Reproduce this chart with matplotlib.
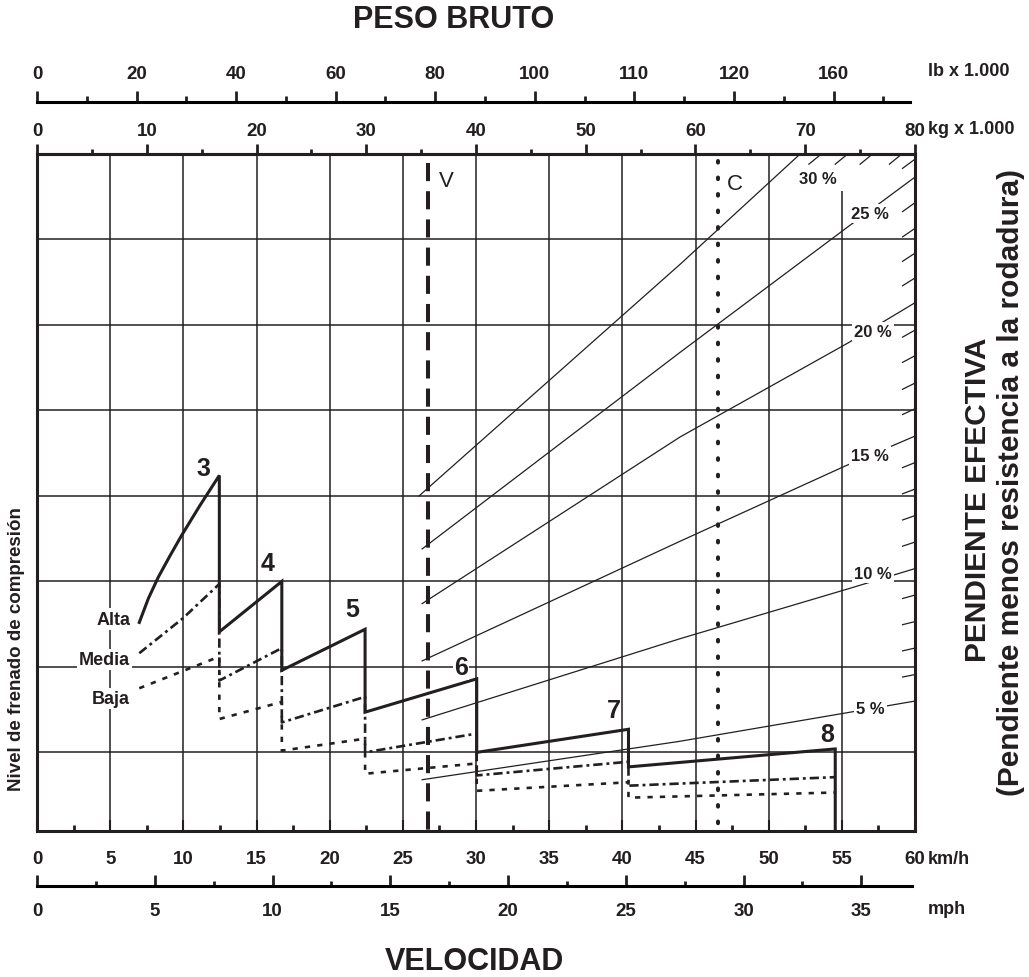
import numpy as np
import matplotlib.pyplot as plt
from matplotlib import font_manager

# ---- datos: velocidad en km/h, nivel en divisiones de cuadricula
alta_kmh = [6.99, 7.61, 8.29, 9.09, 9.89, 11.14, 12.46, 12.46, 16.73, 16.73, 22.42,
            22.42, 30.05, 30.05, 40.42, 40.42, 54.55, 54.55]
alta_nivel = [2.52, 2.80, 3.05, 3.30, 3.54, 3.89, 4.24, 2.41, 3.00, 1.96, 2.44,
              1.47, 1.86, 1.00, 1.27, 0.83, 1.04, 0.08]

media_kmh = [6.99, 9.98, 12.46, 12.46, 16.73, 16.73, 22.42, 22.42, 30.05, 30.05,
             40.42, 40.42, 54.55]
media_nivel = [2.16, 2.57, 2.97, 1.84, 2.22, 1.35, 1.65, 1.00, 1.22, 0.73,
               0.89, 0.61, 0.71]

baja_kmh = [6.99, 12.46, 12.46, 16.73, 16.73, 22.42, 22.42, 30.05, 30.05, 40.42,
            40.42, 54.55]
baja_nivel = [1.75, 2.12, 1.39, 1.59, 1.02, 1.16, 0.75, 0.87, 0.55, 0.65,
              0.47, 0.53]

niveles = ['Alta', 'Media', 'Baja']
nivel_etiqueta_kmh = [6.36, 6.36, 6.36]
nivel_etiqueta_y = [2.56, 2.09, 1.63]

marchas = ['3', '4', '5', '6', '7', '8']
marcha_kmh = [11.37, 15.74, 21.51, 28.98, 39.39, 53.98]
marcha_nivel = [4.33, 3.22, 2.68, 2.00, 1.49, 1.22]

pendientes = ['30 %', '25 %', '20 %', '15 %', '10 %', '5 %']
pend_kmh = [[26.11, 43.95, 52.15],
            [26.32, 43.95, 55.43, 60.0],
            [26.32, 43.95, 55.43, 60.0],
            [26.32, 43.95, 55.23, 60.0],
            [26.32, 43.95, 55.57, 60.0],
            [26.32, 43.95, 55.57, 60.0]]
pend_nivel = [[4.00, 6.71, 8.00],
              [3.38, 5.68, 7.15, 7.73],
              [2.74, 4.69, 5.79, 6.26],
              [2.07, 3.47, 4.35, 4.70],
              [1.38, 2.33, 2.92, 3.15],
              [0.68, 1.13, 1.47, 1.60]]
pend_etiqueta_kmh = [53.38, 56.94, 57.14, 56.94, 57.14, 56.94]
pend_etiqueta_nivel = [7.71, 7.30, 5.92, 4.47, 3.09, 1.51]

# marcas de 1 % en el borde derecho (nivel) y en el borde superior (km/h)
marcas_derecha = [1.91, 2.22, 2.53, 2.84, 3.46, 3.77, 4.08, 4.39, 5.02, 5.32,
                  5.64, 5.94, 6.55, 6.84, 7.13, 7.43, 7.94]
marcas_arriba = [53.6, 55.4, 57.1, 59.1]

v_kmh = 26.70
c_kmh = 46.57

lb_valores = [0, 20, 40, 60, 80, 100, 120, 140, 160]
lb_etiquetas = ['0', '20', '40', '60', '80', '100', '110', '120', '160']
lb_menores = [10, 30, 50, 70, 90, 110, 130, 150, 170]
kg_valores = list(range(0, 81, 10))
kmh_valores = list(range(0, 61, 5))
mph_valores = list(range(0, 36, 5))
mph_menores = [2.5, 7.5, 12.5, 17.5, 22.5, 27.5, 32.5]

W, H = 1029, 978
KG_POR_LB = 0.45359237
KMH_POR_MPH = 1.609344

instaladas = {f.name for f in font_manager.fontManager.ttflist}
ESTRECHA = 'Liberation Sans Narrow' if 'Liberation Sans Narrow' in instaladas else 'Liberation Sans'
plt.rcParams['font.family'] = ['Liberation Sans', 'DejaVu Sans']

NEGRO = '#231f20'
LW_BORDE = 2.2


def kmh_a_kg(v):
    return np.asarray(v) * 80.0 / 60.0


def kg_a_kmh(v):
    return np.asarray(v) * 60.0 / 80.0


def fig_text(fig, px, py, s, **kw):
    return fig.text(px / W, 1 - py / H, s, **kw)


def negrita(labels):
    for t in labels:
        t.set_fontweight('bold')
        t.set_family(ESTRECHA)


fig = plt.figure(figsize=(W / 100, H / 100), dpi=100)
x0, x1 = 37, 915
ax = fig.add_axes([x0 / W, 1 - 832 / H, (x1 - x0) / W, (832 - 155) / H])
ax.set_xlim(0, 60)
ax.set_ylim(0.08, 8)

# cuadricula
tops = [7.57 if v == 55 else 8 for v in kmh_valores[1:-1]]
ax.vlines(kmh_valores[1:-1], 0.08, tops, color=NEGRO, lw=1.1, zorder=1)
ax.hlines(range(1, 8), 0, 60, color=NEGRO, lw=1.1, zorder=1)

# lineas de pendiente
for xs, ys in zip(pend_kmh, pend_nivel):
    ax.plot(xs, ys, color=NEGRO, lw=0.9, zorder=2)

# inclinacion de las marcas: la del ultimo tramo de cada linea
fin_nivel = [ys[-1] for ys in pend_nivel[1:]][::-1]
fin_pend = [(ys[-1] - ys[-2]) / (xs[-1] - xs[-2])
            for xs, ys in zip(pend_kmh[1:], pend_nivel[1:])][::-1]
L = 0.85
for y in marcas_derecha:
    s = np.interp(y, fin_nivel, fin_pend)
    ax.plot([60 - L, 60], [y - s * L, y], color=NEGRO, lw=0.9, zorder=2)
for x in marcas_arriba:
    ax.plot([x - L, x], [8 - 0.14 * L, 8], color=NEGRO, lw=0.9, zorder=2)

for txt, x, y in zip(pendientes, pend_etiqueta_kmh, pend_etiqueta_nivel):
    ax.text(x, y, txt, ha='center', va='center', fontsize=12, fontweight='bold',
            family=ESTRECHA, color=NEGRO, zorder=6,
            bbox=dict(facecolor='white', edgecolor='none', pad=1.5))

# lineas V y C
ax.plot([v_kmh, v_kmh], [7.9, 0.08], color=NEGRO, lw=2.9, dashes=(4.5, 2.5), zorder=3)
ax.plot([c_kmh, c_kmh], [7.92, 0.08], color=NEGRO, lw=2.9, dashes=(0.4, 3.7),
        dash_capstyle='round', zorder=3)
ax.text(v_kmh + 1.26, 7.69, 'V', ha='center', va='center', fontsize=16, color=NEGRO)
ax.text(c_kmh + 1.14, 7.65, 'C', ha='center', va='center', fontsize=16, color=NEGRO)

# frenado de compresion
ax.plot(baja_kmh, baja_nivel, color=NEGRO, lw=1.9, dashes=(2.0, 2.7), zorder=4)
ax.plot(media_kmh, media_nivel, color=NEGRO, lw=1.9, dashes=(3.5, 1.5, 1.1, 1.5), zorder=4)
ax.plot(alta_kmh, alta_nivel, color=NEGRO, lw=2.2, zorder=5, solid_joinstyle='miter')

for txt, x, y in zip(niveles, nivel_etiqueta_kmh, nivel_etiqueta_y):
    ax.text(x, y, txt, ha='right', va='center', fontsize=13, fontweight='bold',
            color=NEGRO, zorder=6,
            bbox=dict(facecolor='white', edgecolor='none', pad=1.5))

for txt, x, y in zip(marchas, marcha_kmh, marcha_nivel):
    ax.text(x, y, txt, ha='center', va='center', fontsize=18, fontweight='bold',
            family=ESTRECHA, color=NEGRO, zorder=6,
            bbox=dict(facecolor='white', edgecolor='none', pad=0.5))

# ejes del grafico principal
for lado in ['left', 'right', 'top', 'bottom']:
    ax.spines[lado].set_linewidth(LW_BORDE)
    ax.spines[lado].set_color(NEGRO)
    ax.spines[lado].set_zorder(7)
ax.set_yticks([])
ax.set_xticks(kmh_valores)
ax.set_xticks([v + 2.5 for v in kmh_valores[:-1]], minor=True)
ax.tick_params(axis='x', which='major', direction='in', length=8, width=1.5,
               pad=14, labelsize=13.5, color=NEGRO, labelcolor=NEGRO)
ax.tick_params(axis='x', which='minor', direction='in', length=4.3, width=2.0, color=NEGRO)
negrita(ax.get_xticklabels())

# eje kg (arriba)
kg = ax.secondary_xaxis('top', functions=(kmh_a_kg, kg_a_kmh))
kg.set_xticks(kg_valores)
kg.set_xticks([v + 5 for v in kg_valores[:-1]], minor=True)
kg.spines['top'].set_linewidth(LW_BORDE)
kg.tick_params(which='major', direction='out', length=7.5, width=2.0, pad=3,
               labelsize=13.5, color=NEGRO, labelcolor=NEGRO)
kg.tick_params(which='minor', direction='out', length=3.6, width=2.0, color=NEGRO)
negrita(kg.get_xticklabels())

# eje lb
ax_lb = fig.add_axes([x0 / W, 1 - 103 / H, (x1 - x0) / W, 0.0001])
ax_lb.set_xlim(0, 60)
ax_lb.patch.set_visible(False)
for lado in ['left', 'right', 'bottom']:
    ax_lb.spines[lado].set_visible(False)
ax_lb.spines['top'].set_linewidth(LW_BORDE)
ax_lb.spines['top'].set_bounds(0, 59.67)
ax_lb.set_yticks([])
ax_lb.xaxis.set_ticks_position('top')
ax_lb.set_xticks(kg_a_kmh(np.array(lb_valores) * KG_POR_LB), lb_etiquetas)
ax_lb.set_xticks(kg_a_kmh(np.array(lb_menores) * KG_POR_LB), minor=True)
ax_lb.tick_params(which='major', direction='out', length=8, width=2.0, pad=6.5,
                  labelsize=13.5, color=NEGRO, labelcolor=NEGRO)
ax_lb.tick_params(which='minor', direction='out', length=4.3, width=2.0, color=NEGRO)
negrita(ax_lb.get_xticklabels())

# eje mph
ax_mph = fig.add_axes([x0 / W, 1 - 887 / H, (x1 - x0) / W, 0.0001])
ax_mph.set_xlim(0, 60)
ax_mph.patch.set_visible(False)
for lado in ['left', 'right', 'top']:
    ax_mph.spines[lado].set_visible(False)
ax_mph.spines['bottom'].set_linewidth(LW_BORDE)
ax_mph.spines['bottom'].set_bounds(0, 59.8)
ax_mph.set_yticks([])
ax_mph.set_xticks(np.array(mph_valores) * KMH_POR_MPH, [str(v) for v in mph_valores])
ax_mph.set_xticks(np.array(mph_menores) * KMH_POR_MPH, minor=True)
ax_mph.tick_params(which='major', direction='in', length=8, width=2.0, pad=11.5,
                   labelsize=13.5, color=NEGRO, labelcolor=NEGRO)
ax_mph.tick_params(which='minor', direction='in', length=3.6, width=2.0, color=NEGRO)
negrita(ax_mph.get_xticklabels())

# textos
unidad = dict(ha='left', va='center', fontsize=13, fontweight='bold', color=NEGRO)
fig_text(fig, 928, 72, 'lb x 1.000', **unidad)
fig_text(fig, 928, 130, 'kg x 1.000', **unidad)
fig_text(fig, 928, 860, 'km/h', **unidad)
fig_text(fig, 928, 910, 'mph', **unidad)

fig_text(fig, 454, 20, 'PESO BRUTO', ha='center', va='center', fontsize=22,
         fontweight='bold', color=NEGRO)
fig_text(fig, 474, 962, 'VELOCIDAD', ha='center', va='center', fontsize=22,
         fontweight='bold', color=NEGRO)
fig_text(fig, 17, 649, 'Nivel de frenado de compresión', ha='center', va='center',
         rotation=90, fontsize=13.5, fontweight='bold', color=NEGRO)
fig_text(fig, 978, 500, 'PENDIENTE EFECTIVA', ha='center', va='center',
         rotation=90, fontsize=21.5, fontweight='bold', color=NEGRO)
fig_text(fig, 1011, 482, '(Pendiente menos resistencia a la rodadura)', ha='center',
         va='center', rotation=90, fontsize=21.5, fontweight='bold', color=NEGRO)

fig.savefig('out.png', dpi=100)
